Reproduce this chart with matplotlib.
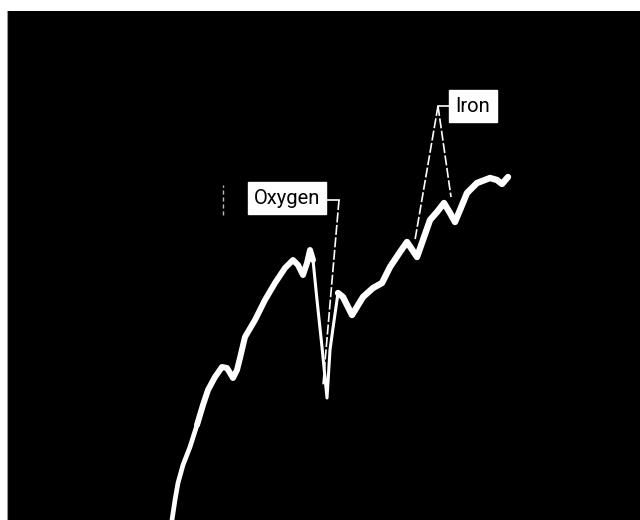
import numpy as np
import matplotlib.pyplot as plt

# trace (arbitrary units, x right, y up)
x = [165, 168, 171, 176, 183, 190, 196, 201, 208, 215, 220, 226, 230, 233, 238, 248,
     258, 268, 278, 286, 291, 296, 300, 303, 306, 310, 315, 320, 323, 326, 331, 336,
     345, 356, 366, 375, 383, 393, 400, 410, 416, 423, 430, 437, 443, 448, 453, 460,
     470, 483, 490, 495, 501]
y = [0, 20, 37, 55, 73, 95, 115, 130, 143, 153, 152, 142, 150, 162, 183, 200,
     220, 237, 252, 260, 255, 245, 257, 270, 260, 220, 173, 122, 170, 192, 227, 223,
     205, 223, 232, 237, 253, 268, 278, 263, 280, 300, 308, 317, 307, 298, 310, 327,
     337, 342, 340, 336, 343]

labels = ["Oxygen", "Iron"]
label_xy = [(280, 322), (466, 414)]
# leader: elbow point, then tips on the trace
elbows = [((315, 320), (332, 320)), ((446, 414), (431, 414))]
tips = [[(316, 135)], [(408, 280), (444, 323)]]

fig = plt.figure(figsize=(6.4, 5.2), dpi=100)
ax = fig.add_axes([7/640, 0, 633/640, 509/520])
ax.set_facecolor('black')
ax.set_xlim(0, 633)
ax.set_ylim(0, 509)
ax.set_xticks([])
ax.set_yticks([])
for s in ['top', 'right', 'bottom']:
    ax.spines[s].set_visible(False)
ax.spines['left'].set_color('#999999')

x = np.array(x)
y = np.array(y)
kw = dict(color='white', solid_capstyle='round', solid_joinstyle='round')
ax.plot(x[:7], y[:7], lw=3.4, **kw)
ax.plot(x[5:25], y[5:25], lw=4.3, **kw)
ax.plot(x[24:31], y[24:31], lw=2.2, **kw)
ax.plot(x[30:], y[30:], lw=4.6, **kw)

for lab, (tx, ty), (e0, e1), tp in zip(labels, label_xy, elbows, tips):
    ax.plot([e0[0], e1[0]], [e0[1], e1[1]], color='white', lw=1.2)
    for t in tp:
        ax.plot([e1[0], t[0]], [e1[1], t[1]], color='white', lw=1.2,
                linestyle=(0, (6, 1.5)))
    ax.text(tx, ty, lab, ha='center', va='center', fontsize=14.5, color='black',
            family=['Roboto', 'DejaVu Sans'],
            bbox=dict(facecolor='white', edgecolor='white', pad=4.5))

# small scan mark left of the label
ax.plot([216, 216], [305, 335], color='#bbbbbb', lw=1, linestyle=(0, (3, 2)))

fig.savefig('out.png', dpi=100, facecolor='white')
